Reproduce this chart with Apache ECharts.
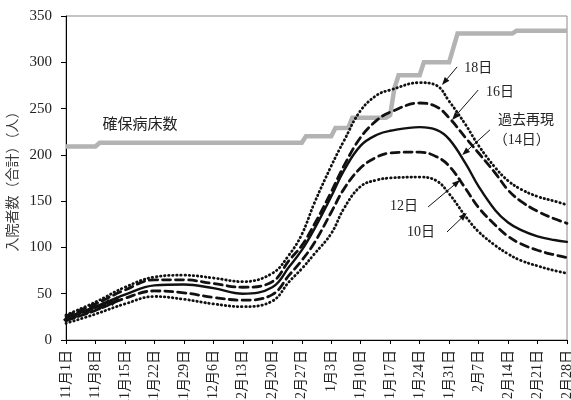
<!DOCTYPE html>
<html>
<head>
<meta charset="utf-8">
<script src="https://cdn.jsdelivr.net/npm/echarts@6/dist/echarts.min.js"></script>
<style>
  html, body { margin: 0; padding: 0; background: #fff; }
  #chart { width: 571px; height: 400px; }
</style>
</head>
<body>
<div id="chart"></div>
<script>
// Weekly tick labels (day 0 = 11月1日, one tick every 7 days)
const weekLabels = ['11月1日','11月8日','11月15日','11月22日','11月29日','12月6日','12月13日','12月20日','12月27日',
                    '1月3日','1月10日','1月17日','1月24日','1月31日','2月7日','2月14日','2月21日','2月28日'];

// Days (from 11月1日) at which the projected curves are sampled
const curveDays = [0,7,14,21,28,35,42,49,53,56,59,63,66,70,74,77,84,88,91,95,98,102,105,108,112,116,119];

// Inpatients (total) by average length of stay
const stay10 = [18,28,39,47,44,39,36,42,63,77,93,115,142,166,173,175,176,172,158,133,117,102,93,86,80,75,72];
const stay12 = [21,32,45,53,51,46,43,49,70,86,105,138,163,186,198,202,203,198,188,163,143,124,112,104,97,92,89];
const stay14 = [24,36,49,59,60,56,50,57,79,97,120,155,183,210,222,226,230,227,217,190,166,140,127,119,112,108,106];
const stay16 = [26,39,54,65,65,61,57,63,86,102,125,160,188,219,238,246,256,252,240,218,202,180,162,150,139,131,126];
const stay18 = [27,41,57,68,70,67,63,72,92,114,148,188,215,248,265,270,278,275,258,232,210,186,172,163,155,150,146];

// Observed inpatients, first days
const actualDays   = [0,1,2,3,4,5,6,7,8,9,10,11,12];
const actualValues = [22,26,25,29,31,30,34,36,35,39,41,40,44];

// Secured hospital beds (change points)
const bedDays   = [0,7,8,56,57,63,64,67,68,76,77,78,79,84,85,91,93,106,107,119];
const bedValues = [209,209,213,213,220,220,229,229,240,240,243,272,286,286,300,300,331,331,334,334];

const serif = "'Liberation Serif','Noto Sans CJK JP',serif";
const gothic = "'Noto Sans CJK JP','Noto Sans',sans-serif";

const zip = (xs, ys) => xs.map((x, i) => [x, ys[i]]);

const chart = echarts.init(document.getElementById('chart'), null, { renderer: 'canvas' });

function curve(name, values, dash, width) {
  return {
    name, type: 'line', data: zip(curveDays, values), smooth: 0.4,
    symbol: 'none', z: 3,
    lineStyle: { color: '#111', width: width, type: dash, cap: 'round' }
  };
}

chart.setOption({
  animation: false,
  backgroundColor: '#fff',
  grid: {
    left: 66, right: 4, top: 16, bottom: 60,
    containLabel: false, outerBoundsMode: 'none',
    show: true, borderColor: '#8a8a8a', borderWidth: 1
  },
  xAxis: {
    type: 'value', min: 0, max: 119, interval: 7,
    axisLine: { lineStyle: { color: '#000', width: 1 } },
    axisTick: { show: true, length: 4, lineStyle: { color: '#000' } },
    splitLine: { show: false },
    axisLabel: {
      rotate: 90, fontSize: 14, fontFamily: serif, color: '#222', margin: 10,
      showMinLabel: true, showMaxLabel: true, hideOverlap: false,
      formatter: v => weekLabels[Math.round(v / 7)] || ''
    }
  },
  yAxis: {
    type: 'value', min: 0, max: 350, interval: 50,
    name: '入院者数（合計）（人）', nameLocation: 'middle', nameGap: 38,
    nameTextStyle: { fontSize: 14, fontFamily: gothic, color: '#3a3a3a' },
    axisLine: { show: true, lineStyle: { color: '#000', width: 1 } },
    axisTick: { show: true, length: 5, lineStyle: { color: '#000' } },
    splitLine: { show: false },
    axisLabel: { fontSize: 15, fontFamily: serif, color: '#222', margin: 14 }
  },
  series: [
    {
      name: '確保病床数', type: 'line', data: zip(bedDays, bedValues),
      symbol: 'none', z: 2,
      lineStyle: { color: '#b3b3b3', width: 4.5, join: 'miter' }
    },
    curve('10日', stay10, [0.5, 3.6], 2.8),
    curve('12日', stay12, [8, 5], 2.8),
    curve('14日', stay14, 'solid', 2.4),
    curve('16日', stay16, [8, 5], 2.8),
    curve('18日', stay18, [0.5, 3.6], 2.8),
    {
      name: '実績', type: 'line', data: zip(actualDays, actualValues),
      symbol: 'diamond', symbolSize: 6, z: 4,
      itemStyle: { color: '#111' },
      lineStyle: { color: '#111', width: 2.5 }
    }
  ]
});

// Annotation texts and arrows, placed in data space (day, value)
const notes = [
  { text: '確保病床数', at: [17.6, 232], align: 'center', size: 15 },
  { text: '18日', at: [97.9, 294], align: 'center', size: 14 },
  { text: '16日', at: [103.1, 268], align: 'center', size: 14 },
  { text: '過去再現', at: [102.6, 237], align: 'left', size: 14 },
  { text: '（14日）', at: [101.6, 216], align: 'left', size: 14 },
  { text: '12日', at: [80.3, 144], align: 'center', size: 14 },
  { text: '10日', at: [84.3, 116], align: 'center', size: 14 }
];
const arrows = [
  { from: [92.9, 295], to: [89.3, 275.5] },
  { from: [97.9, 270], to: [91.7, 237.7] },
  { from: [100.7, 227], to: [94.1, 199.8] },
  { from: [86.0, 143.7], to: [93.6, 172.8] },
  { from: [90.5, 116.7], to: [95.2, 137.2] }
];

const px = p => chart.convertToPixel({ gridIndex: 0 }, p);
const graphics = [];
notes.forEach(n => {
  const [x, y] = px(n.at);
  graphics.push({
    type: 'text', x, y, z: 10,
    style: { text: n.text, font: n.size + 'px ' + serif, fill: '#222', align: n.align, verticalAlign: 'middle' }
  });
});
arrows.forEach(a => {
  const [x1, y1] = px(a.from);
  const [x2, y2] = px(a.to);
  const dx = x2 - x1, dy = y2 - y1, len = Math.hypot(dx, dy);
  const ux = dx / len, uy = dy / len;
  const headLen = 8, headW = 3;
  const bx = x2 - ux * headLen, by = y2 - uy * headLen;
  graphics.push({
    type: 'line', z: 10,
    shape: { x1, y1, x2: bx, y2: by },
    style: { stroke: '#111', lineWidth: 1 }
  });
  graphics.push({
    type: 'polygon', z: 10,
    shape: { points: [[x2, y2], [bx - uy * headW, by + ux * headW], [bx + uy * headW, by - ux * headW]] },
    style: { fill: '#111' }
  });
});
chart.setOption({ graphic: graphics });
</script>
</body>
</html>
